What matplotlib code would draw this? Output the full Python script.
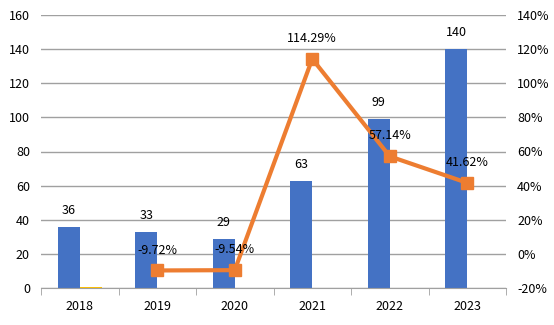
import numpy as np
import matplotlib.pyplot as plt

plt.rcParams['font.family'] = ['Noto Sans CJK JP', 'DejaVu Sans']

# data
years = ['2018', '2019', '2020', '2021', '2022', '2023']
counts = [36, 33, 29, 63, 99, 140]
extra = [0.6, np.nan, np.nan, np.nan, np.nan, np.nan]   # tiny gold bar at 2018
growth = [np.nan, -9.72, -9.54, 114.29, 57.14, 41.62]

blue = '#4472C4'
orange = '#ED7D31'
gold = '#FFC000'
grid = '#A0A0A0'

fig = plt.figure(figsize=(5.54, 3.25), dpi=100)
ax = fig.add_axes([41/554, 1-288/325, 465/554, 273/325])
ax2 = ax.twinx()

x = np.arange(len(years))
w = 0.284
ax.bar(x - w/2, counts, w, color=blue, zorder=2)
ax.bar(x + w/2, extra, w, color=gold, zorder=2)
for xi, v in zip(x, counts):
    ax.annotate(str(v), (xi - w/2, v), xytext=(0, 7), textcoords='offset points',
                ha='center', va='bottom', fontsize=9)

ax.set_ylim(0, 160)
ax.set_yticks(range(0, 161, 20))
ax.set_xlim(-0.5, len(years) - 0.5)
ax.set_xticks(x)
ax.set_xticklabels(years)
ax.set_xticks(np.arange(-0.5, len(years)), minor=True)
ax.tick_params(axis='x', which='major', length=0, pad=9, labelsize=9)
ax.tick_params(axis='x', which='minor', length=5, color=grid)
ax.tick_params(axis='y', length=0, pad=8, labelsize=9)
ax.grid(axis='y', color=grid, lw=1, zorder=0)
ax.set_axisbelow(True)
for s in ['top', 'right', 'left']:
    ax.spines[s].set_visible(False)
    ax2.spines[s].set_visible(False)
ax.spines['bottom'].set_color(grid)
ax2.spines['bottom'].set_visible(False)

ax2.plot(x, growth, color=orange, lw=3, marker='s', ms=9, zorder=3)
for xi, g in zip(x, growth):
    if np.isnan(g):
        continue
    ax2.annotate(f'{g:.2f}%', (xi, g), xytext=(0, 10), textcoords='offset points',
                 ha='center', va='bottom', fontsize=9)
ax2.set_ylim(-20, 140)
ax2.set_yticks(range(-20, 141, 20))
ax2.set_yticklabels([f'{t}%' for t in range(-20, 141, 20)])
ax2.tick_params(axis='y', length=0, pad=8, labelsize=9)

fig.savefig('out.png', dpi=100)
